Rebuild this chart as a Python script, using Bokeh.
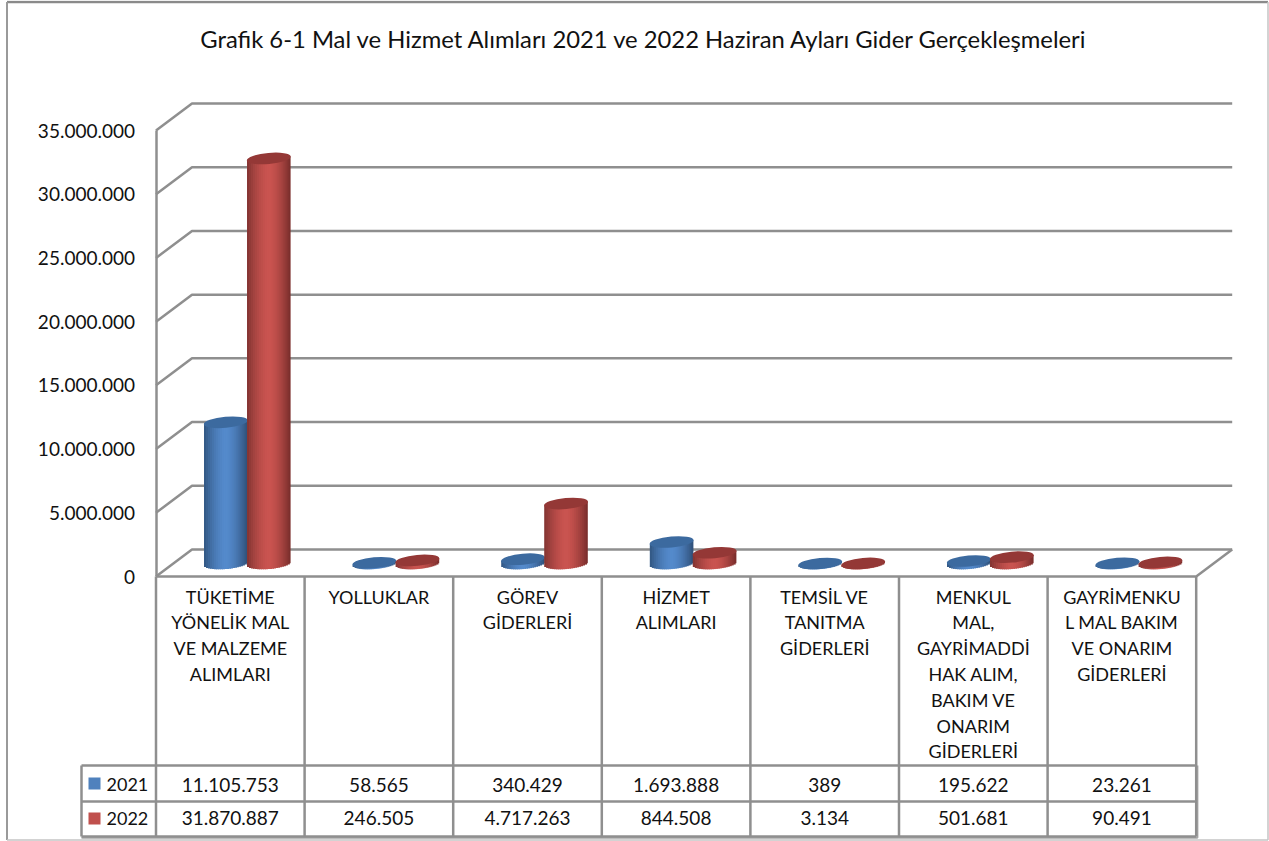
import math
from bokeh.embed import file_html
from bokeh.resources import INLINE
from bokeh.plotting import figure
from bokeh.models import Range1d, FixedTicker, ColumnDataSource
from bokeh.core.properties import value

title_text = "Grafik 6-1 Mal ve Hizmet Alımları 2021 ve 2022  Haziran Ayları Gider Gerçekleşmeleri"
categories = ["TÜKETİME\nYÖNELİK MAL\nVE MALZEME\nALIMLARI", "YOLLUKLAR", "GÖREV\nGİDERLERİ", "HİZMET\nALIMLARI",
              "TEMSİL VE\nTANITMA\nGİDERLERİ", "MENKUL\nMAL,\nGAYRİMADDİ\nHAK ALIM,\nBAKIM VE\nONARIM\nGİDERLERİ",
              "GAYRİMENKU\nL MAL BAKIM\nVE ONARIM\nGİDERLERİ"]
series_names = ["2021", "2022"]
values_2021 = [11105753, 58565, 340429, 1693888, 389, 195622, 23261]
values_2022 = [31870887, 246505, 4717263, 844508, 3134, 501681, 90491]
table_2021 = ["11.105.753", "58.565", "340.429", "1.693.888", "389", "195.622", "23.261"]
table_2022 = ["31.870.887", "246.505", "4.717.263", "844.508", "3.134", "501.681", "90.491"]
tick_values = [0, 5000000, 10000000, 15000000, 20000000, 25000000, 30000000, 35000000]
tick_labels = ["0", "5.000.000", "10.000.000", "15.000.000", "20.000.000", "25.000.000", "30.000.000", "35.000.000"]

W, H = 1269, 841
X0, CW = 155.5, 148.6       # plot left, category width (px)
Y0, PXV = 576.0, 446.0 / 35000000   # y of zero, px per unit
DX, DY = 36, 27             # depth of the 3D box
FONT = "Lato"
GREY = "#8f8f8f"

def X(px): return (px - X0) / CW
def Y(py): return (Y0 - py) / PXV

p = figure(width=W, height=H, output_backend="svg", toolbar_location=None,
           x_range=Range1d(X(0), X(W)), y_range=Range1d(Y(H), Y(0)),
           min_border=0, outline_line_color=None, tools="")
p.grid.visible = False
p.xaxis.visible = False
ax = p.yaxis[0]
ax.fixed_location = 0
ax.bounds = (0, 35000000)
ax.ticker = FixedTicker(ticks=tick_values)
ax.major_label_overrides = dict(zip(tick_values, tick_labels))
ax.major_label_text_font = FONT
ax.major_label_text_font_size = "19px"
ax.major_label_text_color = "#111111"
ax.major_label_standoff = 21
ax.major_tick_in = 0
ax.major_tick_out = 0
ax.minor_tick_in = 0
ax.minor_tick_out = 0
ax.axis_line_color = GREY
ax.axis_line_width = 2.5

def seg(pts, color=GREY, width=2.5):
    p.line([X(a) for a, b in pts], [Y(b) for a, b in pts], line_color=color, line_width=width)

# outer frame
seg([(6.5, 1.5), (1267.5, 1.5)], "#8a8a8a", 2.5)
seg([(6.5, 1.5), (6.5, 839.5)], "#9a9a9a", 2)
seg([(1267.5, 1.5), (1267.5, 839.5)], "#c4c4c4", 1.5)
seg([(6.5, 839.5), (1267.5, 839.5)], "#c4c4c4", 1.5)

# walls and floor
xR = X0 + 7 * CW
for v in tick_values:
    py = Y0 - v * PXV
    seg([(X0, py), (X0 + DX, py - DY), (xR + DX, py - DY)])
seg([(X0, Y0), (xR, Y0), (xR + DX, Y0 - DY)])

# table
ROW_TOP, ROW_MID, ROW_BOT = 765, 801, 836
seg([(xR + 1.2, ROW_TOP), (xR + 1.2, ROW_BOT + 1.2), (81, ROW_BOT + 1.2)], "#a8a8a8", 2)
for i in range(8):
    seg([(X0 + i * CW, Y0), (X0 + i * CW, ROW_BOT)])
seg([(81, ROW_TOP), (xR, ROW_TOP)])
seg([(81, ROW_MID), (xR, ROW_MID)])
seg([(81, ROW_BOT), (xR, ROW_BOT)])
seg([(81, ROW_TOP), (81, ROW_BOT)])

# cylinders
BASE, RX, RY, TILT, BPX = 563.0, 21.8, 5.5, 0.09, 12.71e-6
N = 22
def mix(c1, c2, t):
    return "#%02x%02x%02x" % tuple(round(a + (b - a) * t) for a, b in zip(c1, c2))

def cylinders(vals, off, edgeL, mid, edgeR, topc):
    src = dict(left=[], right=[], top=[], bottom=[], color=[])
    cx = [X0 + (i + 0.5) * CW + 17.0 + off for i in range(len(vals))]
    for c, v in zip(cx, vals):
        ty = BASE - v * BPX
        for k in range(N):
            u0 = -1 + 2 * k / N
            u1 = u0 + 2 / N
            um = (u0 + u1) / 2
            s = abs(um) ** 1.6
            col = mix(mid, edgeL if um < 0 else edgeR, s)
            src["left"].append(X(c + u0 * RX))
            src["right"].append(X(c + u1 * RX + (1.2 if k < N - 1 else 0)))
            src["bottom"].append(Y(BASE - TILT * um * RX + RY * math.sqrt(max(0, 1 - um * um))))
            src["top"].append(Y(ty - TILT * um * RX))
            src["color"].append(col)
    p.quad(left="left", right="right", top="top", bottom="bottom", fill_color="color",
           line_color=None, source=ColumnDataSource(src))
    p.ellipse(x=[X(c) for c in cx], y=[v * BPX / PXV + Y(BASE) for v in vals], width=RX * 2 + 0.5, height=RY * 2,
              width_units="screen", height_units="screen", angle=math.atan(TILT),
              fill_color=topc, line_color=None)

cylinders(values_2021, -21.5, (50, 86, 130), (84, 138, 204), (46, 78, 118), "#3c6a9f")
cylinders(values_2022, 21.5, (130, 52, 50), (202, 84, 80), (118, 44, 42), "#943836")

# text
def txt(xs, ys, labels, size, align="center", base="middle", lh=1.0):
    p.text(x=[X(a) for a in xs], y=[Y(b) for b in ys], text=labels, text_font=value(FONT),
           text_font_size=size, text_align=align, text_baseline=base, text_color="#111111",
           text_line_height=lh)

txt([647], [38], [title_text], "23.8px")
cxs = [X0 + (i + 0.5) * CW for i in range(7)]
txt(cxs, [585] * 7, categories, "18px", base="top", lh=1.174)
txt(cxs, [784.5] * 7, table_2021, "19px")
txt(cxs, [817.5] * 7, table_2022, "19px")
txt([106, 106], [783.5, 817.5], series_names, "18px", align="left")
p.rect(x=[X(94), X(94)], y=[Y(783), Y(818)], width=12, height=12, width_units="screen", height_units="screen",
       fill_color=["#4f81bd", "#c0504d"], line_color=None)

open("out.html", "w").write(file_html(p, INLINE))
